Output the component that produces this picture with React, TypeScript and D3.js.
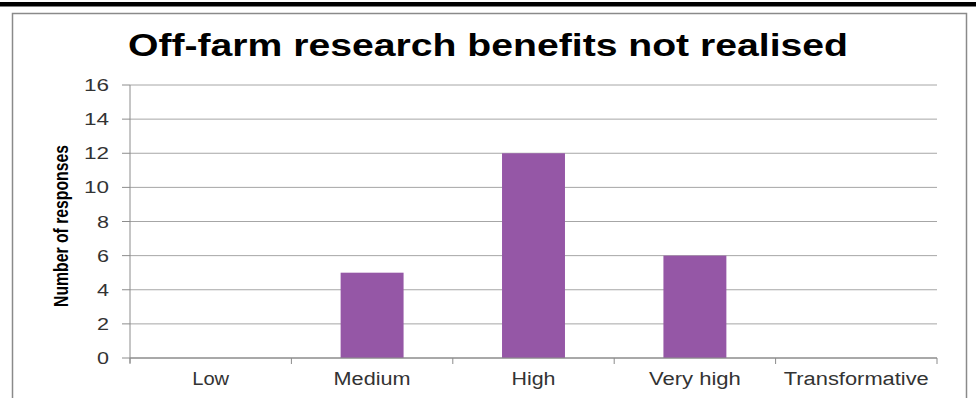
import React from "react";
import * as d3 from "d3";

const categories = ["Low", "Medium", "High", "Very high", "Transformative"];
const responses = [0, 5, 12, 6, 0];
const yTicks = [0, 2, 4, 6, 8, 10, 12, 14, 16];
const titleText = "Off-farm research benefits not realised";
const yLabel = "Number of responses";

const W = 976;
const H = 398;
const plotLeft = 130;
const plotRight = 937;
const plotTop = 85;
const plotBottom = 358;

// measured label widths (picture is slightly wide-stretched)
const xLabelWidths: Record<string, number> = {
  Low: 37,
  Medium: 77,
  High: 44,
  "Very high": 92,
  Transformative: 145,
};

export default function App() {
  const x = d3.scaleBand<string>().domain(categories).range([plotLeft, plotRight]).padding(0);
  const y = d3.scaleLinear().domain([0, 16]).range([plotBottom, plotTop]);
  const barW = x.bandwidth() * 0.39;
  const font = "Arial, 'Liberation Sans', sans-serif";
  const boundaries = [...categories.map((c) => x(c) as number), plotRight];

  return (
    <svg
      width={W}
      height={H}
      style={{ position: "absolute", left: 0, top: 0, background: "#fff" }}
      xmlns="http://www.w3.org/2000/svg"
    >
      <rect x={0} y={0} width={W} height={H} fill="#fff" />
      <rect x={0} y={2} width={W} height={4.5} fill="#000" />
      <path d={`M12.5,${H} V13.5 H966.5 V${H}`} fill="none" stroke="#8a8a8a" strokeWidth={1.5} />

      <text
        x={(128 + 848) / 2}
        y={56}
        textAnchor="middle"
        fontFamily={font}
        fontWeight="bold"
        fontSize={32}
        fill="#000"
        textLength={720}
        lengthAdjust="spacingAndGlyphs"
      >
        {titleText}
      </text>

      {yTicks.map((t) => (
        <line
          key={"g" + t}
          x1={plotLeft}
          x2={plotRight}
          y1={y(t)}
          y2={y(t)}
          stroke={t === 0 ? "#8c8c8c" : "#a6a6a6"}
          strokeWidth={1}
        />
      ))}

      {categories.map((c, i) => (
        <rect
          key={c}
          x={(x(c) as number) + (x.bandwidth() - barW) / 2}
          y={y(responses[i])}
          width={barW}
          height={plotBottom - y(responses[i])}
          fill="#9557a6"
        />
      ))}

      <line x1={plotLeft} x2={plotLeft} y1={plotTop} y2={plotBottom + 5} stroke="#8c8c8c" strokeWidth={1} />
      <line x1={plotLeft} x2={plotRight} y1={plotBottom} y2={plotBottom} stroke="#8c8c8c" strokeWidth={1} />

      {yTicks.map((t) => (
        <g key={"t" + t}>
          <line x1={plotLeft - 8} x2={plotLeft} y1={y(t)} y2={y(t)} stroke="#8c8c8c" strokeWidth={1} />
          <text
            x={109}
            y={y(t) + 6}
            textAnchor="end"
            fontFamily={font}
            fontSize={16}
            fill="#333"
            textLength={t >= 10 ? 25 : 12}
            lengthAdjust="spacingAndGlyphs"
          >
            {t}
          </text>
        </g>
      ))}

      {boundaries.map((b, i) => (
        <line key={"xt" + i} x1={b} x2={b} y1={plotBottom} y2={plotBottom + 6} stroke="#8c8c8c" strokeWidth={1} />
      ))}

      {categories.map((c) => (
        <text
          key={"xl" + c}
          x={(x(c) as number) + x.bandwidth() / 2}
          y={385}
          textAnchor="middle"
          fontFamily={font}
          fontSize={18}
          fill="#333"
          textLength={xLabelWidths[c]}
          lengthAdjust="spacingAndGlyphs"
        >
          {c}
        </text>
      ))}

      <text
        transform={`translate(68,226) rotate(-90)`}
        textAnchor="middle"
        fontFamily={font}
        fontWeight="bold"
        fontSize={20}
        fill="#000"
        textLength={162}
        lengthAdjust="spacingAndGlyphs"
      >
        {yLabel}
      </text>
    </svg>
  );
}
